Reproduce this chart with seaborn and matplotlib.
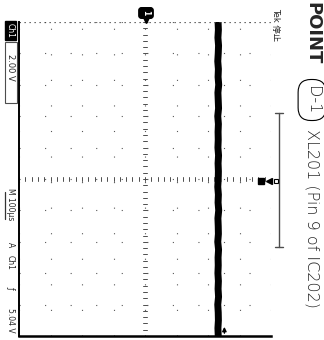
import numpy as np
import pandas as pd
import matplotlib
matplotlib.use("Agg")
import matplotlib.pyplot as plt
from matplotlib.lines import Line2D
from matplotlib.patches import Rectangle
import seaborn as sns

# scope trace (time in us, level in volts, 2 V/div, 100 us/div)
time_us = [-500, -475, -450, -425, -400, -375, -350, -325, -300, -275,
           -250, -225, -200, -175, -150, -125, -100, -75, -50, -25, 0,
           25, 50, 75, 100, 125, 150, 175, 200, 225, 250, 275, 300, 325,
           350, 375, 400, 425, 450, 475, 500]
volts = [4.64, 4.66, 4.63, 4.67, 4.65, 4.62, 4.66, 4.64, 4.68, 4.63,
         4.65, 4.67, 4.62, 4.66, 4.64, 4.65, 4.63, 4.67, 4.64, 4.66, 4.65,
         4.62, 4.66, 4.64, 4.68, 4.63, 4.65, 4.66, 4.62, 4.67, 4.64, 4.65,
         4.63, 4.66, 4.64, 4.67, 4.62, 4.65, 4.66, 4.63, 4.65]
trig_level = 5.04
title_bold = "POINT"
title_tag = "D-1"
title_rest = "XL201 (Pin 9 of IC202)"
ch_label = "Ch1"
ch_scale = "2.00 V"
time_scale = "M 100µs"
trig_parts = ["A", "Ch1", "ƒ", "5.04 V"]

df = pd.DataFrame({"time": time_us, "volts": volts})

sns.set_style("white")
plt.rcParams['font.family'] = ['DejaVu Sans', 'Noto Sans CJK JP']

W, H = 324, 340
fig = plt.figure(figsize=(W / 100, H / 100), dpi=100)
fx = lambda px: px / W
fy = lambda py: 1 - py / H

ax = fig.add_axes([fx(19), 4 / H, 252 / W, 314 / H])
sns.lineplot(data=df, x="volts", y="time", orient="y", sort=False,
             estimator=None, color="black", lw=5, ax=ax)
ax.set_xlim(-8, 8)
ax.set_ylim(500, -500)
ax.set_xlabel("")
ax.set_ylabel("")

# dotted graticule
ax.set_xticks(np.arange(-8, 8.1, 2))
ax.set_yticks(np.arange(-500, 501, 100))
ax.tick_params(length=0, labelbottom=False, labelleft=False)
ax.grid(True, color="0.35", lw=0.8, linestyle=(0, (1, 22)))
for v in np.arange(-8, 8.01, 0.4):
    ax.plot([v, v], [-6, 6], color="0.3", lw=0.7)
for t in np.arange(-500, 501, 20):
    ax.plot([-0.15, 0.15], [t, t], color="0.3", lw=0.7)
ax.axhline(-500, color="0.25", lw=0.9, linestyle=(0, (1, 3)))

for s in ["top", "right"]:
    ax.spines[s].set_visible(False)
ax.spines["left"].set_color("black")
ax.spines["left"].set_linewidth(1.4)
ax.spines["bottom"].set_color("black")
ax.spines["bottom"].set_linewidth(1.8)

# trigger level arrow
ax.annotate("", xy=(trig_level, 462), xytext=(trig_level, 500),
            arrowprops=dict(arrowstyle="-|>", color="black", lw=1,
                            mutation_scale=6), annotation_clip=False)

# ground marker at top
fig.text(fx(146), fy(13), "1", color="white", rotation=-90, fontsize=5.5,
         fontweight="bold", ha="center", va="center",
         bbox=dict(boxstyle="round,pad=0.35", fc="black", ec="black"))
fig.add_artist(Line2D([fx(146)], [fy(20)], marker="v", ms=4, color="black",
                      transform=fig.transFigure))

# record bracket and trigger position
fig.add_artist(Line2D([fx(279), fx(279)], [fy(113), fy(247)], color="0.3",
                      lw=1, transform=fig.transFigure))
for yy in [113, 247]:
    fig.add_artist(Line2D([fx(275), fx(283)], [fy(yy), fy(yy)], color="0.3",
                          lw=1, transform=fig.transFigure))
fig.add_artist(Line2D([fx(261)], [fy(181)], marker="s", ms=4, color="black",
                      transform=fig.transFigure))
fig.add_artist(Line2D([fx(269)], [fy(181)], marker="<", ms=4, color="black",
                      transform=fig.transFigure))
fig.add_artist(Line2D([fx(276)], [fy(181)], marker="s", ms=3, mfc="white",
                      mec="black", mew=0.8, color="black",
                      transform=fig.transFigure))

# scope status text
fig.text(fx(276), fy(8), "Tek 停止", rotation=-90, ha="center", va="top",
         fontsize=6)
fig.add_artist(Rectangle((fx(5), fy(40)), 11 / W, 19 / H, fc="black",
                         ec="black", transform=fig.transFigure))
fig.text(fx(10.5), fy(30.5), ch_label, color="white", rotation=-90,
         ha="center", va="center", fontsize=5.5)
fig.add_artist(Rectangle((fx(4.5), fy(103)), 12 / W, 61 / H, fc="white",
                         ec="0.3", lw=0.8, transform=fig.transFigure))
fig.text(fx(10.5), fy(67), ch_scale, rotation=-90, ha="center",
         va="center", fontsize=6)
fig.add_artist(Line2D([fx(5), fx(5)], [fy(192), fy(219)], color="0.2",
                      lw=0.9, transform=fig.transFigure))
fig.text(fx(10.5), fy(204), time_scale, rotation=-90, ha="center",
         va="center", fontsize=5.5)
for txt, yy in zip(trig_parts, [245, 262, 287, 320]):
    fig.text(fx(10.5), fy(yy), txt, rotation=-90, ha="center", va="center",
             fontsize=5.5)

# chart title on the right edge
fig.text(fx(312), fy(2), title_bold, rotation=-90, ha="center", va="top",
         fontsize=13, fontweight="bold")
fig.text(fx(312), fy(100), title_tag, rotation=-90, ha="center",
         va="center", fontsize=11.5, fontweight="light",
         bbox=dict(boxstyle="round,pad=0.4,rounding_size=0.8", fc="white",
                   ec="black", lw=0.8))
fig.text(fx(312), fy(129), title_rest, rotation=-90, ha="center", va="top",
         fontsize=11.5, fontweight="light")

fig.savefig("out.png", dpi=100)
